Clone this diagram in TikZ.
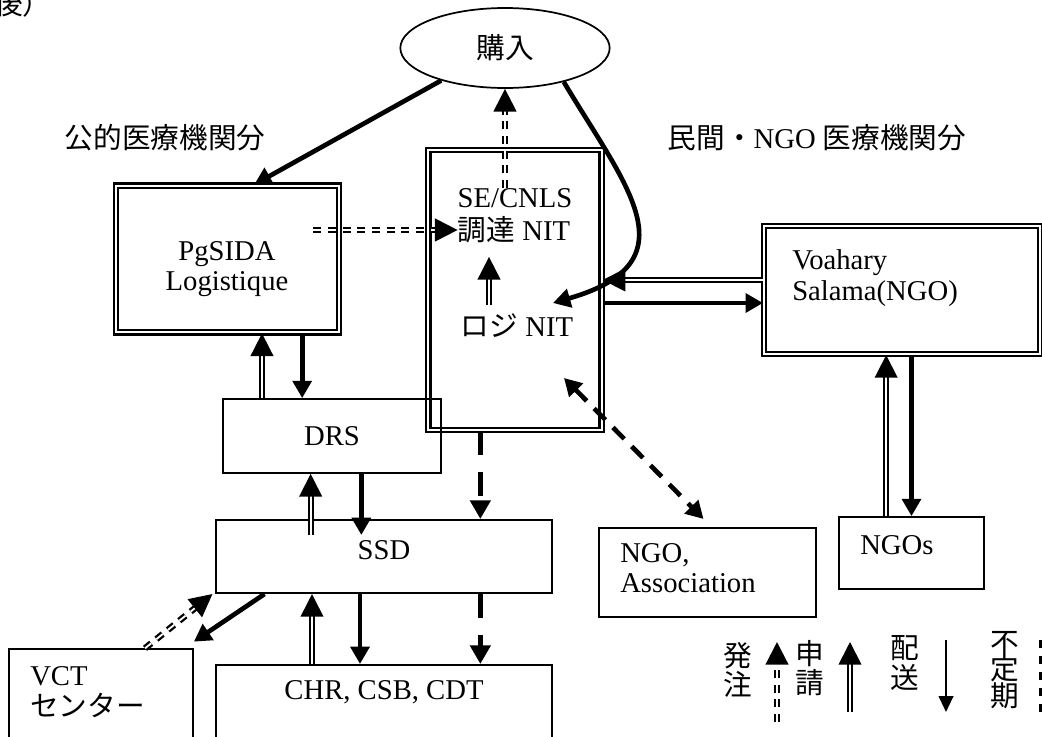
\documentclass[tikz,border=0pt]{standalone}
\usepackage{fontspec}
\setmainfont{Liberation Serif}
\newfontfamily\jp{Noto Sans CJK JP}
\usetikzlibrary{shapes.geometric, arrows.meta, positioning, calc}

\tikzset{
  plainbox/.style={draw, line width=1.3pt, rectangle, inner sep=0pt},
  dblbox/.style={draw, double, line width=1.6pt, double distance=1.6pt, rectangle, inner sep=0pt},
  txt/.style={inner sep=0pt, align=left},
  jpfont/.style={font=\jp\fontsize{21.5}{22}\selectfont},
  deliverline/.style={line width=3.5pt, -{Triangle[length=13pt,width=14pt]}},
  requestline/.style={double, line width=1.4pt, double distance=1.5pt, -{Triangle[length=17pt,width=17pt]}},
  orderline/.style={double, line width=1.7pt, double distance=1.4pt, dash pattern=on 6pt off 5pt, -{Triangle[length=17pt,width=17pt]}},
  irregline/.style={line width=3.8pt, dash pattern=on 18pt off 13pt, -{Triangle[length=14pt,width=15pt]}},
}

\begin{document}
\begin{tikzpicture}[x=0.75pt, y=-0.75pt, font=\fontsize{21.5}{23}\selectfont]
\clip (0,0) rectangle (1042,736);
\fill[white] (0,0) rectangle (1042,736);

% header fragment and side labels
\node[txt, jpfont, anchor=west] (frag) at (-6,4) {後）};
\node[txt] (public) at (165,138) {\jp 公的医療機関分};
\node[txt] (private) at (817,138) {{\jp 民間・}NGO {\jp 医療機関分}};

% boxes
\node[draw, ellipse, line width=1.3pt, minimum width=157pt, minimum height=60pt] (buy) at (505,48) {\jp 購入};
\node[dblbox, minimum width=167pt, minimum height=110pt] (pgsida) at (227.5,259) {};
\node[txt, align=center] (pgsidatxt) at (227,269) {PgSIDA\\Logistique};
\node[dblbox, minimum width=130pt, minimum height=210pt] (secnls) at (515,290) {};
\node[txt] (se) at (515,198) {SE/CNLS};
\node[txt] (chotatsu) at (514,230) {{\jp 調達} NIT};
\node[txt] (logi) at (517,326) {{\jp ロジ} NIT};
\node[dblbox, minimum width=207pt, minimum height=96pt] (voahary) at (902,290) {};
\node[txt, anchor=west] (voaharytxt) at (792,278) {Voahary\\Salama(NGO)};
\node[plainbox, minimum width=163.5pt, minimum height=55.5pt] (drs) at (332,436) {DRS};
\node[plainbox, minimum width=252pt, minimum height=55pt] (ssd) at (384,556.5) {};
\node[txt] (ssdtxt) at (384,550) {SSD};
\node[plainbox, minimum width=163pt, minimum height=67pt] (ngoa) at (707.5,572.5) {};
\node[txt, anchor=west] (ngoatxt) at (620,568) {NGO,\\Association};
\node[plainbox, minimum width=109pt, minimum height=54pt] (ngos) at (911.5,553) {};
\node[txt, anchor=west] (ngostxt) at (860,545) {NGOs};
\node[plainbox, minimum width=138pt, minimum height=83pt] (vct) at (101,704.5) {};
\node[txt, anchor=west] (vcttxt) at (30,692) {VCT\\{\jp センター}};
\node[plainbox, minimum width=252pt, minimum height=79pt] (chr) at (384,717.5) {};
\node[txt] (chrtxt) at (384,692) {CHR, CSB, CDT};

% purchase
\draw[deliverline] (buy.207) -- ([xshift=20pt]pgsida.north);
\draw[deliverline] (buy.-30) .. controls (625,185) and (695,262) .. ([shift={(36,-23)}]logi.center);
\draw[orderline] (se.north -| buy.south) -- (buy.south);
\draw[orderline, shorten <=-20pt] (pgsida.east |- chotatsu.west) -- (chotatsu.west);
\coordinate (lu) at ([xshift=-21pt]logi.north);
\draw[requestline, shorten <=7pt, shorten >=10pt] (lu) -- (lu |- chotatsu.south);

% NGO side
\coordinate (vr) at ([yshift=7.5pt]voahary.west);
\draw[requestline] (vr) -- (vr -| secnls.east);
\coordinate (vd) at ([yshift=-9.75pt]secnls.east);
\draw[deliverline] (vd) -- (vd -| voahary.west);
\coordinate (u4) at ([xshift=-19pt]ngos.north);
\draw[requestline] (u4) -- (u4 |- voahary.south);
\draw[deliverline] (ngos.north |- voahary.south) -- (ngos.north);
\draw[irregline, line width=3.5pt, dash pattern=on 12pt off 8pt, {Triangle[length=13pt,width=14pt]}-{Triangle[length=13pt,width=14pt]}]
  ([shift={(47,52)}]logi.center) -- ([shift={(-4,-8)}]ngoa.north);

% irregular supply
\coordinate (lane) at ([xshift=-26pt]secnls.south);
\draw[irregline] (lane) -- (lane |- ssd.north);
\draw[irregline] (lane |- ssd.south) -- (lane |- chr.north);

% public chain
\coordinate (u1) at ([xshift=-52.5pt]drs.north);
\draw[requestline] (u1) -- (u1 |- pgsida.south);
\coordinate (d1) at ([xshift=56pt]pgsida.south);
\draw[deliverline] (d1) -- (d1 |- drs.north);
\coordinate (u2) at ([xshift=-55pt]ssd.north);
\draw[requestline, shorten <=-12pt] (u2) -- (u2 |- drs.south);
\coordinate (d2) at ([xshift=-17pt]ssd.north);
\draw[deliverline, shorten >=-12pt] (d2 |- drs.south) -- (d2);
\coordinate (u3) at ([xshift=-54pt]chr.north);
\draw[requestline] (u3) -- (u3 |- ssd.south);
\coordinate (d3) at ([xshift=-18pt]chr.north);
\draw[deliverline] (d3 |- ssd.south) -- (d3);
\draw[deliverline] ([xshift=37pt]ssd.south west) -- ([yshift=5pt]vct.north east);
\draw[orderline] ([xshift=33pt]vct.north) -- ([xshift=-2pt]ssd.south west);

% legend
\node[txt, jpfont, align=center] (lgorder) at (738,670) {発\\注};
\node[txt, jpfont, align=center] (lgrequest) at (810,668) {申\\請};
\node[txt, jpfont, align=center] (lgdeliver) at (905,663) {配\\送};
\node[txt, align=center, font=\jp\fontsize{21.5}{20}\selectfont] (lgirr) at (1005,670) {不\\定\\期};
\draw[orderline] ([shift={(39,52)}]lgorder.center) -- ([shift={(39,-28)}]lgorder.center);
\draw[requestline] ([shift={(40,44)}]lgrequest.center) -- ([shift={(40,-26)}]lgrequest.center);
\draw[line width=1.5pt, -{Triangle[length=12pt,width=11pt]}] ([shift={(41,-23)}]lgdeliver.center) -- ([shift={(41,49)}]lgdeliver.center);
\draw[line width=3pt, dash pattern=on 6pt off 6pt] ([shift={(36,-30)}]lgirr.center) -- ([shift={(36,42)}]lgirr.center);
\end{tikzpicture}
\end{document}
